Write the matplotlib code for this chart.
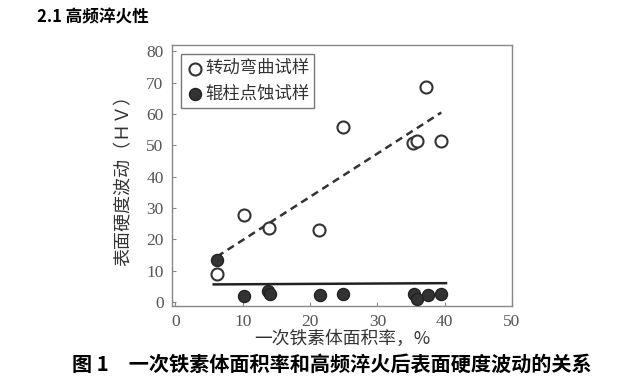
"""Surface hardness fluctuation vs. primary ferrite area ratio."""

import matplotlib
matplotlib.use("Agg")
import matplotlib.pyplot as plt

plt.rcParams["font.family"] = ["Noto Sans CJK SC", "DejaVu Sans"]

# rotating bending specimens (open circles)
bend_x = [6.2, 10.2, 13.9, 21.4, 24.9, 35.3, 35.9, 37.3, 39.4]
bend_y = [8.8, 27.7, 23.7, 23.0, 55.8, 50.7, 51.3, 68.6, 51.3]

# roller pitting specimens (filled circles)
pit_x = [6.2, 10.2, 13.7, 14.1, 21.5, 24.9, 35.4, 35.9, 37.5, 39.5]
pit_y = [13.5, 1.8, 3.6, 2.6, 2.2, 2.6, 2.6, 1.0, 2.2, 2.6]

# trend lines
trend_x = [6.2, 39.5]
trend_y = [14.5, 60.5]
flat_x = [5.7, 40.2]
flat_y = [5.6, 6.0]

xticks = [0, 10, 20, 30, 40, 50]
yticks = [0, 10, 20, 30, 40, 50, 60, 70, 80]

fig = plt.figure(figsize=(6.44, 3.83), dpi=100)
ax = fig.add_axes([0.267, 0.201, 0.528, 0.681])

ax.plot(trend_x, trend_y, ls=(0, (3, 2)), color="#333333", lw=1.8)
ax.plot(flat_x, flat_y, color="#222222", lw=1.8)
ax.scatter(bend_x, bend_y, s=75, facecolors="white", edgecolors="#333333",
           linewidths=1.5, zorder=3, label="转动弯曲试样")
ax.scatter(pit_x, pit_y, s=75, color="#333333", edgecolors="#222222",
           zorder=3, label="辊柱点蚀试样")

ax.set_xlim(-0.5, 49.6)
ax.set_ylim(-1.3, 82)
ax.set_xticks(xticks)
ax.set_yticks(yticks)
ax.tick_params(direction="in", length=3, color="#888888", labelsize=12.5,
               labelcolor="#555555", pad=6)
for lbl in ax.get_xticklabels() + ax.get_yticklabels():
    lbl.set_family("Liberation Serif")
for s in ax.spines.values():
    s.set_color("#888888")
    s.set_linewidth(1.0)

leg = ax.legend(loc="upper left", handletextpad=0.1,
                borderpad=0.3, labelspacing=0.45, handlelength=1.0,
                fancybox=False, framealpha=1, borderaxespad=0.5,
                prop={"family": "Noto Sans CJK SC", "size": 12.5})
leg.get_frame().set_edgecolor("#777777")
for t in leg.get_texts():
    t.set_color("#333333")

ax.set_xlabel("一次铁素体面积率，%", fontsize=12.8, color="#333333", labelpad=0)
ax.set_ylabel("表面硬度波动（ＨＶ）", fontsize=13, color="#333333", labelpad=10)

fig.text(0.057, 0.955, "2.1 高频淬火性", fontsize=12, fontweight="bold",
         ha="left", va="center")
fig.text(0.112, 0.05, "图 1　一次铁素体面积率和高频淬火后表面硬度波动的关系",
         fontsize=14.5, fontweight="bold", ha="left", va="center")

fig.savefig("out.png", dpi=100)
